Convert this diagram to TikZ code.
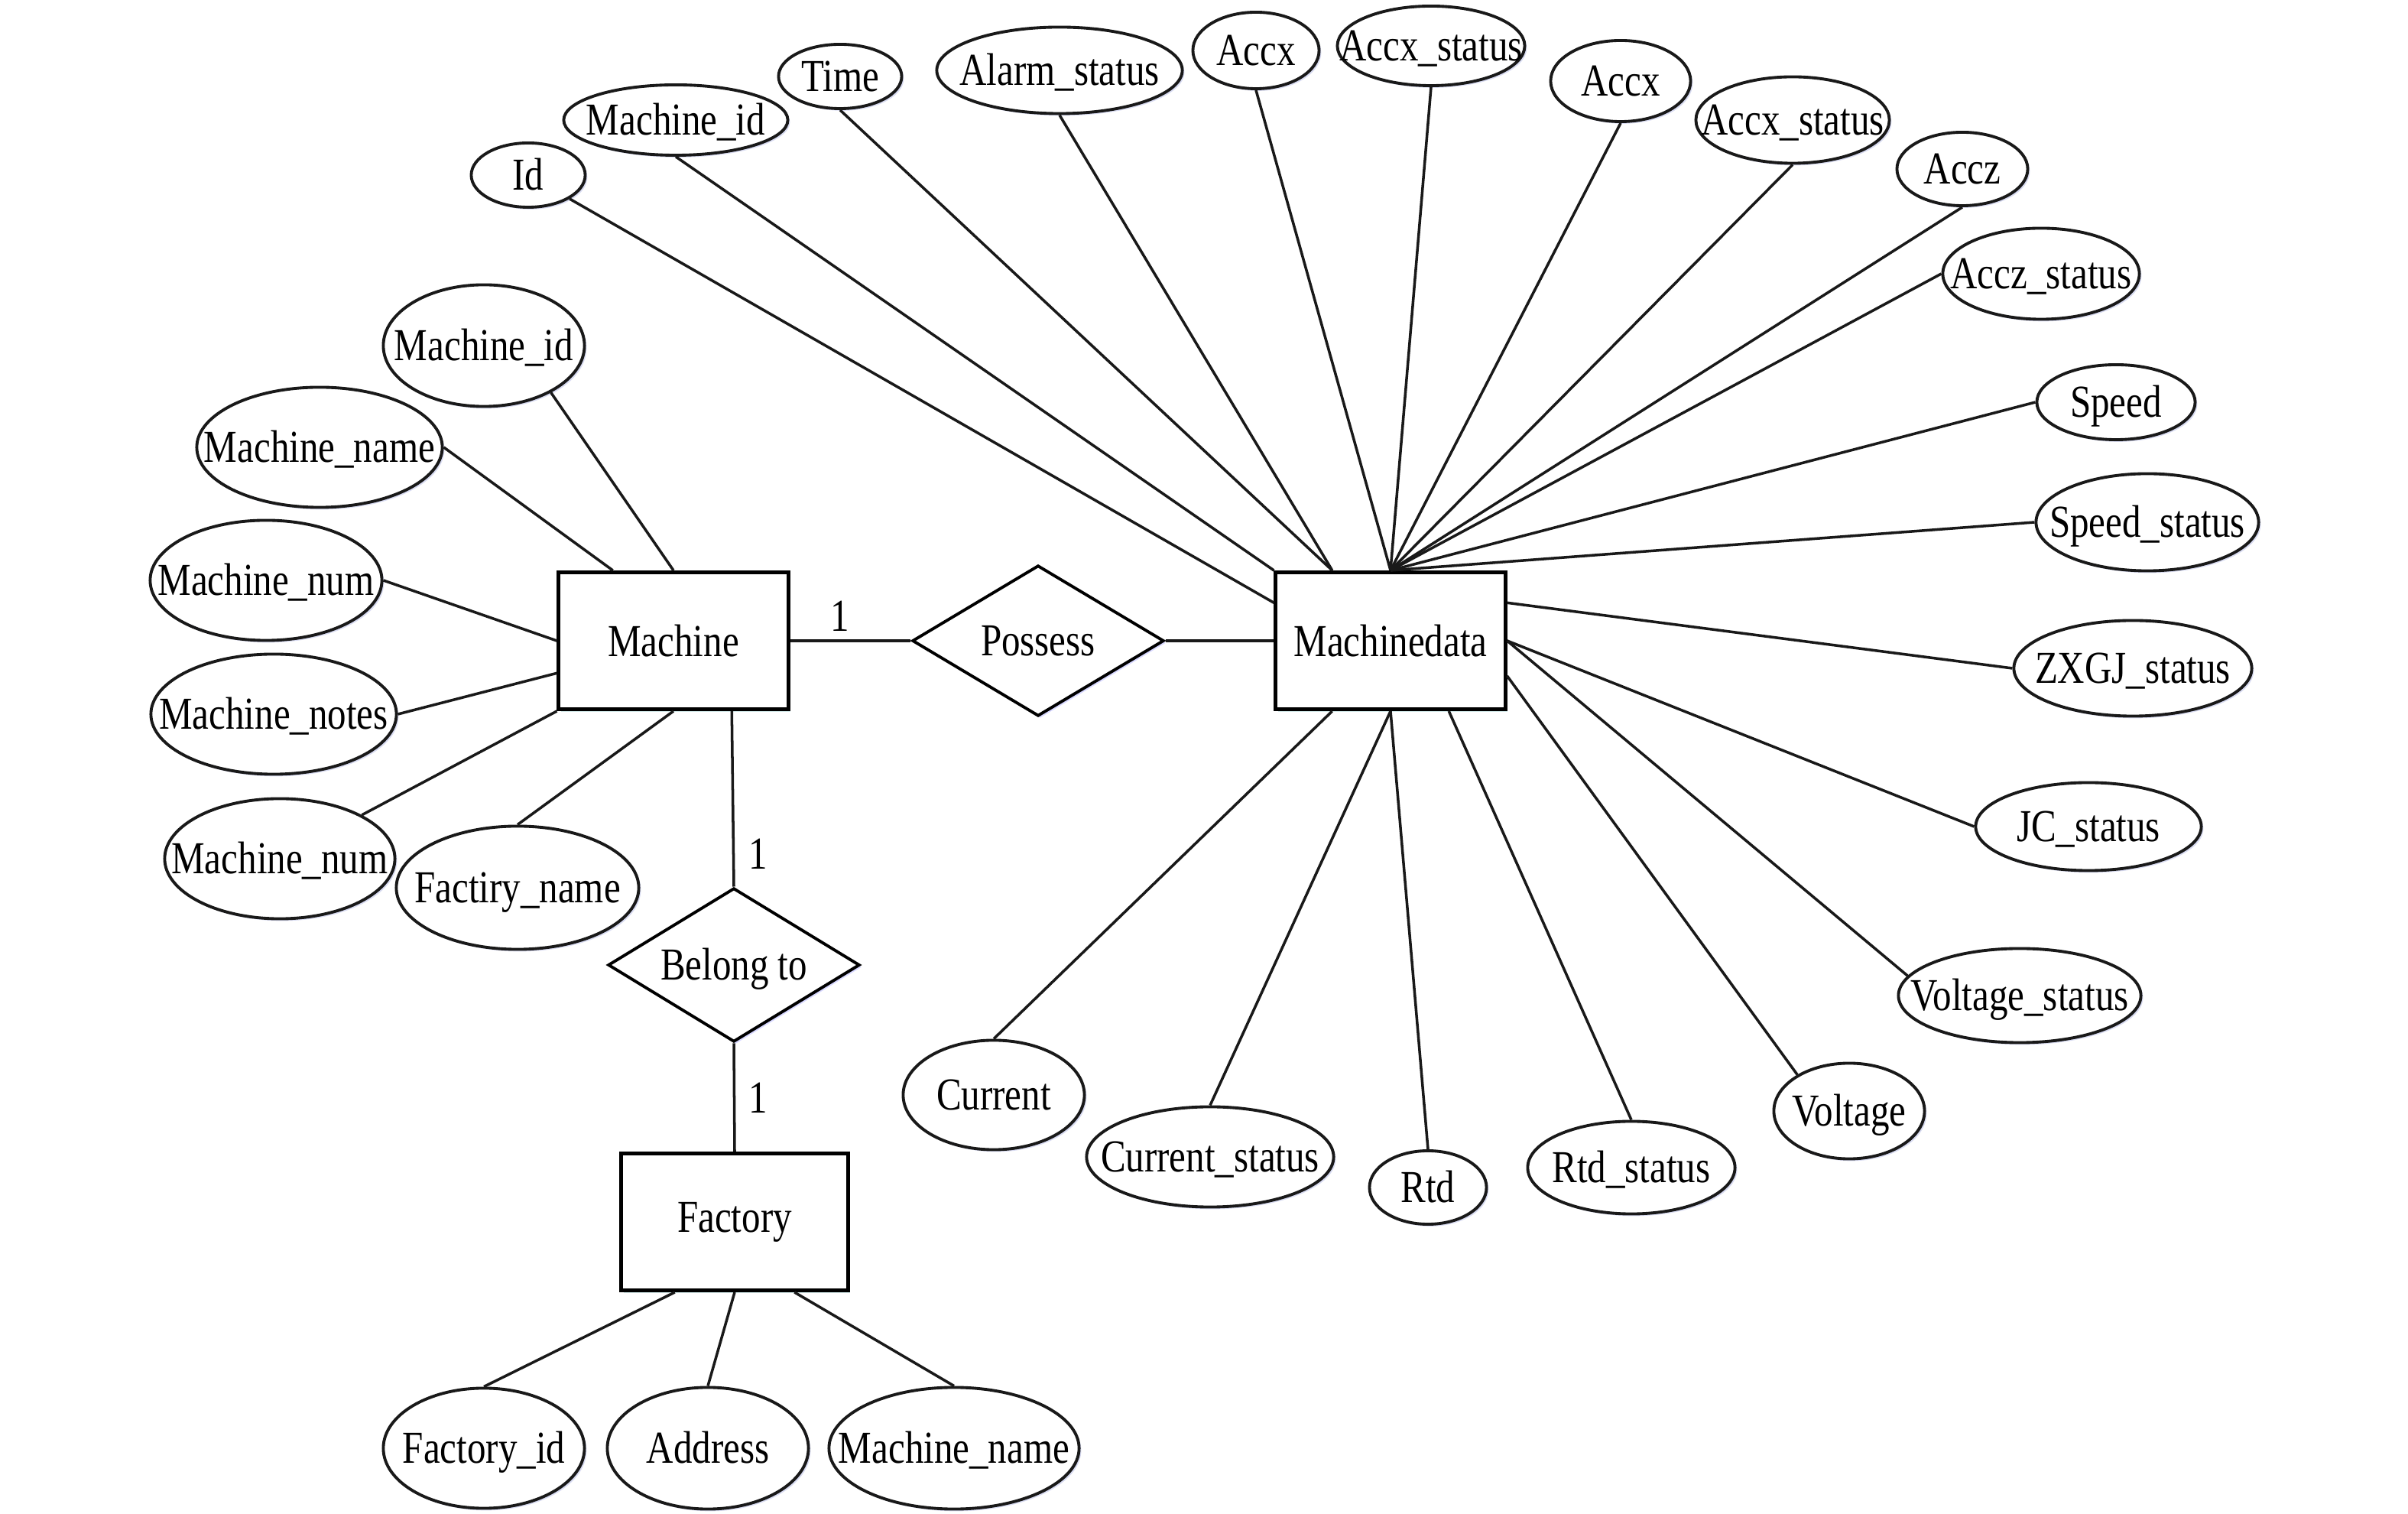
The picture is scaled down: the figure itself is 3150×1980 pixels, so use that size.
\documentclass[tikz,border=0pt]{standalone}
\usepackage{fontspec}
\setmainfont{Liberation Serif}[FakeStretch=0.82]
\usetikzlibrary{shapes.geometric,shadows,calc}
\newcommand\mytxt[1]{\makebox[0pt]{\raisebox{-0.33em}[0pt][0pt]{#1}}}
\tikzset{
  attr/.style 2 args={ellipse, draw=black!90, line width=1.1pt, fill=white, inner sep=0pt,
    minimum width=#1cm, minimum height=#2cm,
    drop shadow={shadow xshift=0.8pt, shadow yshift=-0.8pt, fill=cyan!30!blue!25, opacity=0.6}},
  ent/.style={rectangle, draw=black, line width=1.4pt, fill=white, inner sep=0pt,
    minimum width=3cm, minimum height=1.79cm,
    drop shadow={shadow xshift=0.9pt, shadow yshift=-0.9pt, fill=teal!25, opacity=0.7}},
  rel/.style={diamond, draw=black, line width=1.1pt, fill=white, inner sep=0pt,
    minimum width=3.29cm, minimum height=1.97cm,
    drop shadow={shadow xshift=0.8pt, shadow yshift=-0.8pt, fill=blue!30, opacity=0.5}},
  conn/.style={line width=1.0pt, draw=black!90},
  card/.style={inner sep=0pt}
}
\begin{document}
\begin{tikzpicture}[x=0.01cm, y=-0.01cm, font=\fontsize{17}{20}\selectfont]
\useasboundingbox (0,0) rectangle (3150,1980);
\fill[white] (0,0) rectangle (3150,1980);

% entities and relationships
\node[ent] (m) at (881,838) {Machine};
\node[ent] (md) at (1819,838) {Machinedata};
\node[ent, minimum width=2.96cm] (f) at (961,1598) {Factory};
\node[rel] (pos) at (1358,838) {\mytxt{Possess}};
\node[rel, minimum height=2.01cm] (bel) at (960,1262) {\mytxt{Belong to}};

% Machinedata attributes
\node[attr={1.49}{0.84}] (id) at (691,229) {\mytxt{Id}};
\node[attr={2.93}{0.92}] (mida) at (884,157) {\mytxt{Machine\_id}};
\node[attr={1.61}{0.84}] (time) at (1099,100) {\mytxt{Time}};
\node[attr={3.21}{1.13}] (alarm) at (1386,92) {\mytxt{Alarm\_status}};
\node[attr={1.65}{1.00}] (accxa) at (1643,66) {\mytxt{Accx}};
\node[attr={2.45}{1.04}] (accxsa) at (1872,60) {\mytxt{Accx\_status}};
\node[attr={1.83}{1.06}] (accxb) at (2120,106) {\mytxt{Accx}};
\node[attr={2.53}{1.13}] (accxsb) at (2345,157) {\mytxt{Accx\_status}};
\node[attr={1.71}{0.96}] (accz) at (2567,221) {\mytxt{Accz}};
\node[attr={2.57}{1.19}] (acczs) at (2670,358) {\mytxt{Accz\_status}};
\node[attr={2.07}{0.98}] (speed) at (2768,526) {\mytxt{Speed}};
\node[attr={2.91}{1.27}] (speeds) at (2809,683) {\mytxt{Speed\_status}};
\node[attr={3.11}{1.25}] (zxgj) at (2790,874) {\mytxt{ZXGJ\_status}};
\node[attr={2.95}{1.15}] (jc) at (2732,1081) {\mytxt{JC\_status}};
\node[attr={3.17}{1.23}] (volts) at (2642,1302) {\mytxt{Voltage\_status}};
\node[attr={1.97}{1.25}] (volt) at (2419,1453) {\mytxt{Voltage}};
\node[attr={2.71}{1.21}] (rtds) at (2134,1527) {\mytxt{Rtd\_status}};
\node[attr={1.53}{0.96}] (rtd) at (1868,1553) {\mytxt{Rtd}};
\node[attr={3.23}{1.31}] (curs) at (1583,1513) {\mytxt{Current\_status}};
\node[attr={2.37}{1.43}] (cur) at (1300,1432) {\mytxt{Current}};

% Machine attributes
\node[attr={2.63}{1.59}] (mid) at (633,452) {\mytxt{Machine\_id}};
\node[attr={3.21}{1.57}] (mname) at (418,585) {\mytxt{Machine\_name}};
\node[attr={3.03}{1.57}] (mnum) at (348,759) {\mytxt{Machine\_num}};
\node[attr={3.21}{1.57}] (mnotes) at (358,934) {\mytxt{Machine\_notes}};
\node[attr={3.01}{1.57}] (mnumb) at (366,1123) {\mytxt{Machine\_num}};
\node[attr={3.17}{1.61}] (fname) at (677,1161) {\mytxt{Factiry\_name}};

% Factory attributes
\node[attr={2.63}{1.57}] (fid) at (633,1894) {\mytxt{Factory\_id}};
\node[attr={2.63}{1.59}] (addr) at (926,1894) {\mytxt{Address}};
\node[attr={3.27}{1.59}] (fmname) at (1248,1894) {\mytxt{Machine\_name}};

% cardinality labels
\node[card] (c1) at (1099,806) {1};
\node[card] (c2) at (992,1117) {1};
\node[card] (c3) at (992,1436) {1};

% anchor coordinates on entities
\coordinate (mdT) at (md.north);
\coordinate (mdTL) at ($(md.north west)!0.25!(md.north east)$);
\coordinate (mdNW) at (md.north west);
\coordinate (mdL) at ($(md.north west)!0.23!(md.south west)$);
\coordinate (mdR1) at ($(md.north east)!0.23!(md.south east)$);
\coordinate (mdR2) at (md.east);
\coordinate (mdR3) at ($(md.north east)!0.75!(md.south east)$);
\coordinate (mdB1) at ($(md.south west)!0.25!(md.south east)$);
\coordinate (mdB2) at (md.south);
\coordinate (mdB3) at ($(md.south west)!0.75!(md.south east)$);

\coordinate (mT1) at ($(m.north west)!0.24!(m.north east)$);
\coordinate (mT2) at (m.north);
\coordinate (mL1) at (m.west);
\coordinate (mL2) at ($(m.north west)!0.73!(m.south west)$);
\coordinate (mSW) at (m.south west);
\coordinate (mB1) at (m.south);
\coordinate (mB2) at ($(m.south west)!0.75!(m.south east)$);

\coordinate (fB1) at ($(f.south west)!0.24!(f.south east)$);
\coordinate (fB2) at (f.south);
\coordinate (fB3) at ($(f.south west)!0.76!(f.south east)$);

% relationship connectors
\draw[conn] (m.east) -- (pos.west);
\draw[conn] (pos.east) -- (md.west);
\draw[conn] (mB2) -- (bel.north);
\draw[conn] (bel.south) -- (f.north);

% Machinedata connectors
\draw[conn] (id) -- (mdL);
\draw[conn] (mida.south) -- (mdNW);
\draw[conn] (time.south) -- (mdTL);
\draw[conn] (alarm.south) -- (mdTL);
\foreach \n in {accxa,accxsa,accxb,accxsb,accz}
  \draw[conn] (\n.south) -- (mdT);
\foreach \n in {acczs,speed,speeds}
  \draw[conn] (\n.west) -- (mdT);
\draw[conn] (zxgj.west) -- (mdR1);
\draw[conn] (jc.west) -- (mdR2);
\draw[conn] (volts.170) -- (mdR2);
\draw[conn] (volt.145) -- (mdR3);
\draw[conn] (rtds.north) -- (mdB3);
\draw[conn] (rtd.north) -- (mdB2);
\draw[conn] (curs.north) -- (mdB2);
\draw[conn] (cur.north) -- (mdB1);

% Machine connectors
\draw[conn] (mid.-35) -- (mT2);
\draw[conn] (mname.east) -- (mT1);
\draw[conn] (mnum.east) -- (mL1);
\draw[conn] (mnotes.east) -- (mL2);
\draw[conn] (mnumb) -- (mSW);
\draw[conn] (fname.north) -- (mB1);

% Factory connectors
\draw[conn] (fid.north) -- (fB1);
\draw[conn] (addr.north) -- (fB2);
\draw[conn] (fmname.north) -- (fB3);
\end{tikzpicture}
\end{document}
